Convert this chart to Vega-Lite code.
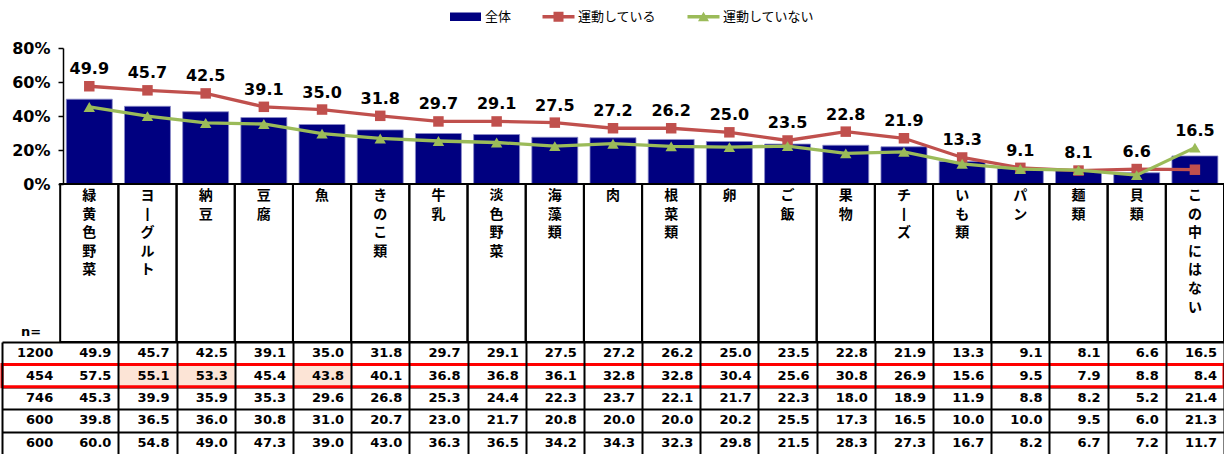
{
  "$schema": "https://vega.github.io/schema/vega-lite/v6.json",
  "background": "white",
  "padding": {"left": 0, "top": 10, "right": 0, "bottom": 0},
  "autosize": {"type": "pad"},
  "bounds": "flush",
  "spacing": 0,
  "config": {"view": {"stroke": null}, "axis": {"labelOverlap": false}},
  "datasets": {
    "wide": [
      {"cat": "n=", "全体": 1200, "運動している": 454, "運動していない": 746, "row4": 600, "row5": 600},
      {"cat": "緑黄色野菜", "全体": 49.9, "運動している": 57.5, "運動していない": 45.3, "row4": 39.8, "row5": 60.0},
      {"cat": "ヨーグルト", "全体": 45.7, "運動している": 55.1, "運動していない": 39.9, "row4": 36.5, "row5": 54.8},
      {"cat": "納豆", "全体": 42.5, "運動している": 53.3, "運動していない": 35.9, "row4": 36.0, "row5": 49.0},
      {"cat": "豆腐", "全体": 39.1, "運動している": 45.4, "運動していない": 35.3, "row4": 30.8, "row5": 47.3},
      {"cat": "魚", "全体": 35.0, "運動している": 43.8, "運動していない": 29.6, "row4": 31.0, "row5": 39.0},
      {"cat": "きのこ類", "全体": 31.8, "運動している": 40.1, "運動していない": 26.8, "row4": 20.7, "row5": 43.0},
      {"cat": "牛乳", "全体": 29.7, "運動している": 36.8, "運動していない": 25.3, "row4": 23.0, "row5": 36.3},
      {"cat": "淡色野菜", "全体": 29.1, "運動している": 36.8, "運動していない": 24.4, "row4": 21.7, "row5": 36.5},
      {"cat": "海藻類", "全体": 27.5, "運動している": 36.1, "運動していない": 22.3, "row4": 20.8, "row5": 34.2},
      {"cat": "肉", "全体": 27.2, "運動している": 32.8, "運動していない": 23.7, "row4": 20.0, "row5": 34.3},
      {"cat": "根菜類", "全体": 26.2, "運動している": 32.8, "運動していない": 22.1, "row4": 20.0, "row5": 32.3},
      {"cat": "卵", "全体": 25.0, "運動している": 30.4, "運動していない": 21.7, "row4": 20.2, "row5": 29.8},
      {"cat": "ご飯", "全体": 23.5, "運動している": 25.6, "運動していない": 22.3, "row4": 25.5, "row5": 21.5},
      {"cat": "果物", "全体": 22.8, "運動している": 30.8, "運動していない": 18.0, "row4": 17.3, "row5": 28.3},
      {"cat": "チーズ", "全体": 21.9, "運動している": 26.9, "運動していない": 18.9, "row4": 16.5, "row5": 27.3},
      {"cat": "いも類", "全体": 13.3, "運動している": 15.6, "運動していない": 11.9, "row4": 10.0, "row5": 16.7},
      {"cat": "パン", "全体": 9.1, "運動している": 9.5, "運動していない": 8.8, "row4": 10.0, "row5": 8.2},
      {"cat": "麺類", "全体": 8.1, "運動している": 7.9, "運動していない": 8.2, "row4": 9.5, "row5": 6.7},
      {"cat": "貝類", "全体": 6.6, "運動している": 8.8, "運動していない": 5.2, "row4": 6.0, "row5": 7.2},
      {"cat": "この中にはない", "全体": 16.5, "運動している": 8.4, "運動していない": 21.4, "row4": 21.3, "row5": 11.7}
    ]
  },
  "vconcat": [
    {
      "width": 1222,
      "height": 136,
      "data": {"name": "wide"},
      "transform": [
        {"filter": "datum.cat !== 'n='"},
        {"fold": ["全体", "運動している", "運動していない"], "as": ["row", "value"]},
        {"joinaggregate": [{"op": "max", "field": "value", "as": "top"}], "groupby": ["cat"]}
      ],
      "encoding": {
        "x": {
          "field": "cat", "type": "nominal",
          "sort": ["n=", "緑黄色野菜", "ヨーグルト", "納豆", "豆腐", "魚", "きのこ類", "牛乳", "淡色野菜", "海藻類", "肉", "根菜類", "卵", "ご飯", "果物", "チーズ", "いも類", "パン", "麺類", "貝類", "この中にはない"],
          "scale": {"domain": ["n=", "緑黄色野菜", "ヨーグルト", "納豆", "豆腐", "魚", "きのこ類", "牛乳", "淡色野菜", "海藻類", "肉", "根菜類", "卵", "ご飯", "果物", "チーズ", "いも類", "パン", "麺類", "貝類", "この中にはない"], "paddingInner": 0.21, "paddingOuter": 0.105},
          "axis": null
        },
        "y": {
          "field": "value", "type": "quantitative",
          "scale": {"domain": [0, 80]},
          "axis": {"values": [0, 20, 40, 60, 80], "tickCount": 5, "labelExpr": "datum.value + '%'", "labelOverlap": false, "grid": false, "offset": -61, "title": null,
            "domainColor": "#000", "domainWidth": 1.5, "tickColor": "#000", "tickSize": 5, "tickWidth": 1.5,
            "labelFont": "DejaVu Sans", "labelFontSize": 16, "labelFontWeight": "bold", "labelColor": "#000", "labelPadding": 8}
        }
      },
      "layer": [
        {
          "transform": [{"filter": "datum.row === '全体'"}],
          "mark": {"type": "bar", "color": "#000080", "stroke": "#8c8cc8", "strokeWidth": 0.8}
        },
        {
          "transform": [{"filter": "datum.row === '運動している'"}],
          "mark": {"type": "line", "color": "#C0504D", "strokeWidth": 3.3, "point": {"shape": "square", "size": 110, "filled": true, "color": "#C0504D"}}
        },
        {
          "transform": [{"filter": "datum.row === '運動していない'"}],
          "mark": {"type": "line", "color": "#9BBB59", "strokeWidth": 3.3, "point": {"shape": "triangle-up", "size": 130, "filled": true, "color": "#9BBB59"}}
        },
        {
          "transform": [{"filter": "datum.row === '全体'"}],
          "mark": {"type": "text", "font": "DejaVu Sans", "fontSize": 16, "fontWeight": "bold", "dy": -17, "baseline": "middle", "color": "#000"},
          "encoding": {
            "y": {"field": "top", "type": "quantitative", "scale": {"domain": [0, 80]},
              "axis": {"values": [0, 20, 40, 60, 80], "tickCount": 5, "labelExpr": "datum.value + '%'", "labelOverlap": false, "grid": false, "offset": -61, "title": null,
                "domainColor": "#000", "domainWidth": 1.5, "tickColor": "#000", "tickSize": 5, "tickWidth": 1.5,
                "labelFont": "DejaVu Sans", "labelFontSize": 16, "labelFontWeight": "bold", "labelColor": "#000", "labelPadding": 8}},
            "text": {"field": "value", "type": "quantitative", "format": ".1f"}
          }
        },
        {
          "mark": {"type": "point", "filled": true, "opacity": 0},
          "encoding": {
            "color": {
              "field": "row", "type": "nominal",
              "scale": {"domain": ["全体", "運動している", "運動していない"], "range": ["#000080", "#C0504D", "#9BBB59"]},
              "legend": {"orient": "none", "legendX": 457, "legendY": -38, "direction": "horizontal", "title": null,
                "labelFont": "Noto Sans CJK JP", "labelFontSize": 13, "labelColor": "#000", "symbolSize": 100,
                "labelOffset": 13, "columnPadding": 30, "symbolStrokeWidth": 0, "padding": 0, "symbolOpacity": 1}
            },
            "shape": {
              "field": "row", "type": "nominal",
              "scale": {"domain": ["全体", "運動している", "運動していない"], "range": [
                "M-3.1,-0.85H3.1V0.85H-3.1Z",
                "M-3.2,-0.33H3.2V0.33H-3.2Z M-1,-1H1V1H-1Z",
                "M-3.2,-0.33H3.2V0.33H-3.2Z M0,-1L1.1,0.9H-1.1Z"]},
              "legend": {"orient": "none", "legendX": 457, "legendY": -38, "direction": "horizontal", "title": null,
                "labelFont": "Noto Sans CJK JP", "labelFontSize": 13, "labelColor": "#000", "symbolSize": 100,
                "labelOffset": 13, "columnPadding": 30, "symbolStrokeWidth": 0, "padding": 0, "symbolOpacity": 1}
            }
          }
        }
      ]
    },
    {
      "width": 1222,
      "height": 158,
      "data": {"name": "wide"},
      "encoding": {
        "x": {
          "field": "cat", "type": "nominal",
          "scale": {"domain": ["n=", "緑黄色野菜", "ヨーグルト", "納豆", "豆腐", "魚", "きのこ類", "牛乳", "淡色野菜", "海藻類", "肉", "根菜類", "卵", "ご飯", "果物", "チーズ", "いも類", "パン", "麺類", "貝類", "この中にはない"], "paddingInner": 0, "paddingOuter": 0},
          "axis": null
        }
      },
      "layer": [
        {
          "transform": [{"filter": "datum.cat !== 'n='"}],
          "mark": {"type": "rect", "filled": false, "stroke": "#000", "strokeWidth": 2},
          "encoding": {"y": {"value": 0}, "y2": {"value": "height"}}
        },
        {
          "transform": [
            {"filter": "datum.cat !== 'n='"},
            {"calculate": "split(replace(datum.cat, regexp('\\u30fc', 'g'), '\\u4e28'), '')", "as": "chars"}
          ],
          "mark": {"type": "text", "font": "Noto Sans CJK JP", "fontSize": 14, "fontWeight": "bold", "baseline": "top", "lineHeight": 18.6, "dy": 5, "color": "#000"},
          "encoding": {"y": {"value": 0}, "text": {"field": "chars", "type": "nominal"}}
        },
        {
          "transform": [{"filter": "datum.cat === 'n='"}],
          "mark": {"type": "text", "font": "DejaVu Sans", "fontSize": 13, "fontWeight": "bold", "baseline": "bottom", "dy": -3, "color": "#000"},
          "encoding": {"y": {"value": "height"}, "text": {"field": "cat", "type": "nominal"}}
        }
      ]
    },
    {
      "width": 1222,
      "height": 112,
      "data": {"name": "wide"},
      "transform": [
        {"fold": ["全体", "運動している", "運動していない", "row4", "row5"], "as": ["row", "value"]},
        {"calculate": "datum.cat === 'n=' ? format(datum.value, 'd') : format(datum.value, '.1f')", "as": "label"}
      ],
      "encoding": {
        "y": {
          "field": "row", "type": "nominal",
          "scale": {"domain": ["全体", "運動している", "運動していない", "row4", "row5"], "paddingInner": 0, "paddingOuter": 0},
          "axis": {"title": null, "labels": false, "ticks": false, "domain": false, "grid": true, "tickBand": "extent", "zindex": 0,
            "gridColor": {"condition": {"test": "datum.value === 'row5'", "value": "#8a8a8a"}, "value": "#000"},
            "gridDash": {"condition": {"test": "datum.value === 'row5'", "value": [2, 1]}, "value": []},
            "gridWidth": {"condition": {"test": "datum.value === 'row5'", "value": 1}, "value": 2}}
        }
      },
      "layer": [
        {
          "transform": [{"filter": "datum.row === '運動している' && (datum.cat === 'ヨーグルト' || datum.cat === '納豆' || datum.cat === '魚')"}],
          "mark": {"type": "rect", "color": "#FCE4D6"},
          "encoding": {
            "x": {
              "field": "cat", "type": "nominal",
              "scale": {"domain": ["n=", "緑黄色野菜", "ヨーグルト", "納豆", "豆腐", "魚", "きのこ類", "牛乳", "淡色野菜", "海藻類", "肉", "根菜類", "卵", "ご飯", "果物", "チーズ", "いも類", "パン", "麺類", "貝類", "この中にはない"], "paddingInner": 0, "paddingOuter": 0},
              "axis": {"orient": "top", "title": null, "labels": false, "ticks": false, "domain": false, "grid": true, "tickBand": "extent", "zindex": 1,
                "gridColor": "#000", "gridWidth": 2,
                "gridOpacity": {"condition": {"test": "datum.value === 'n='", "value": 0}, "value": 1}}
            }
          }
        },
        {
          "mark": {"type": "text", "font": "DejaVu Sans", "fontSize": 13, "fontWeight": "bold", "align": "right", "dx": -7, "baseline": "middle", "color": "#000"},
          "encoding": {
            "x": {"field": "cat", "type": "nominal", "bandPosition": 1},
            "text": {"field": "label", "type": "nominal"}
          }
        },
        {
          "transform": [{"filter": "datum.row === '運動している' && datum.cat === 'n='"}],
          "mark": {"type": "rect", "filled": false, "stroke": "#FF0000", "strokeWidth": 3}
        }
      ]
    }
  ]
}
